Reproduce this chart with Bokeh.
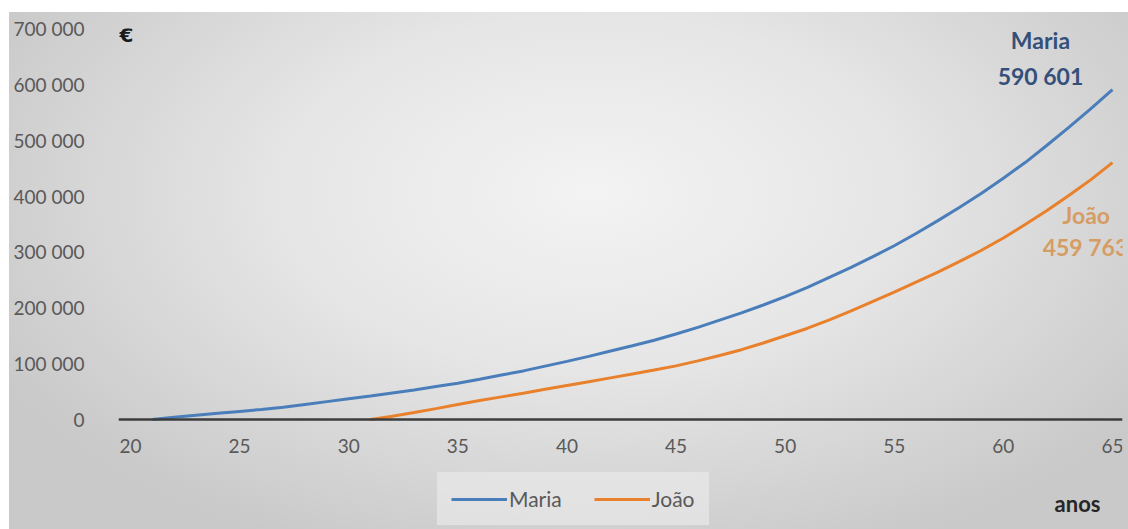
from bokeh.plotting import figure
from bokeh.models import FixedTicker, Label, Legend, LegendItem, Range1d
from bokeh.embed import file_html
from bokeh.resources import INLINE

# ---- data ----
maria_age = list(range(21, 66))
maria_val = [0, 4000, 7500, 11000, 14500, 18000, 22000, 27000, 32000, 37000,
             42000, 47500, 53000, 59000, 65000, 72000, 79500, 87000, 95500, 104000,
             113000, 122500, 132000, 142000, 153000, 165000, 178000, 191000, 205000, 220000,
             236000, 254000, 272000, 291000, 311000, 333000, 356000, 380000, 405000, 432000,
             460000, 491000, 523000, 556000, 590601]
joao_age = list(range(31, 66))
joao_val = [0, 6000, 12500, 19500, 27000, 34000, 40500, 47000, 54000, 61000,
            67500, 74500, 81500, 88500, 96000, 105000, 114500, 125000, 137000, 150000,
            163000, 178000, 194000, 211000, 228000, 246000, 264000, 283000, 303000, 325000,
            349000, 374000, 401000, 429000, 459763]
x_ticks = [20, 25, 30, 35, 40, 45, 50, 55, 60, 65]
y_ticks = [0, 100000, 200000, 300000, 400000, 500000, 600000, 700000]
y_tick_labels = ["0", "100 000", "200 000", "300 000", "400 000", "500 000", "600 000", "700 000"]
series_names = ["Maria", "João"]
end_labels = ["590 601", "459 763"]

FONT = "Lato"
BLUE = "#4a7ebb"
ORANGE = "#e9802b"

Y_TOP = 700000
Y_BOTTOM = -196931  # extra room under the axis for legend and "anos"

p = figure(width=1119, height=517, output_backend="svg", toolbar_location=None,
           x_range=Range1d(19.45, 65.46), y_range=Range1d(Y_BOTTOM, Y_TOP),
           min_border_left=109, min_border_right=6, min_border_top=16, min_border_bottom=0)
p.margin = (12, 0, 0, 9)
p.styles = {"background": "radial-gradient(ellipse 60% 75% at 52% 35%, #f3f3f3 0%, #e6e6e6 45%, #c9c9c9 100%)"}
p.border_fill_color = None
p.background_fill_color = None
p.outline_line_color = None
p.grid.visible = False

r1 = p.line(maria_age, maria_val, line_color=BLUE, line_width=3)
r2 = p.line(joao_age, joao_val, line_color=ORANGE, line_width=3)

xa = p.xaxis[0]
xa.fixed_location = 0
xa.ticker = FixedTicker(ticks=x_ticks)
xa.axis_line_color = "#3c3c3c"
xa.axis_line_width = 2.5
xa.major_tick_line_color = None
xa.minor_tick_line_color = None
xa.major_label_standoff = 14
xa.major_label_text_font = FONT
xa.major_label_text_font_size = "19px"
xa.major_label_text_color = "#595959"

ya = p.yaxis[0]
ya.ticker = FixedTicker(ticks=y_ticks)
ya.major_label_overrides = {t: s for t, s in zip(y_ticks, y_tick_labels)}
ya.axis_line_color = None
ya.major_tick_line_color = None
ya.minor_tick_line_color = None
ya.major_label_standoff = 28
ya.major_label_text_font = FONT
ya.major_label_text_font_size = "19px"
ya.major_label_text_color = "#595959"

# end-value annotations
lab_kw = dict(text_baseline="middle", text_font=FONT, text_font_size="23px", text_font_style="bold")
p.add_layout(Label(x=61.7, y=679000, text=series_names[0], text_align="center", text_color="#34507a", **lab_kw))
p.add_layout(Label(x=61.7, y=615000, text=end_labels[0], text_align="center", text_color="#34507a", **lab_kw))
p.add_layout(Label(x=63.8, y=366000, text=series_names[1], text_align="center", text_color="#d69c64", **lab_kw))
p.add_layout(Label(x=61.8, y=308000, text=end_labels[1], text_align="left", text_color="#d69c64", **lab_kw))

# unit labels
p.add_layout(Label(x=19.5, y=688000, text="€", text_align="left", text_baseline="middle",
                   text_font="DejaVu Sans", text_font_size="20px", text_font_style="bold", text_color="#1a1a1a"))
p.add_layout(Label(x=959, y=26, x_units="screen", y_units="screen", text="anos",
                   text_align="center", text_baseline="middle",
                   text_font=FONT, text_font_size="22px", text_font_style="bold", text_color="#262626"))

legend = Legend(items=[LegendItem(label=series_names[0], renderers=[r1]),
                       LegendItem(label=series_names[1], renderers=[r2])],
                orientation="horizontal", location=(319, 4),
                label_text_font=FONT, label_text_font_size="21px", label_text_color="#595959",
                glyph_width=56, glyph_height=20, label_standoff=2, spacing=32,
                padding=13, margin=0,
                background_fill_color="#eeeeee", background_fill_alpha=0.55,
                border_line_color="#e2e2e2", border_line_alpha=0.8)
p.add_layout(legend)

open("out.html", "w").write(file_html(p, INLINE))
